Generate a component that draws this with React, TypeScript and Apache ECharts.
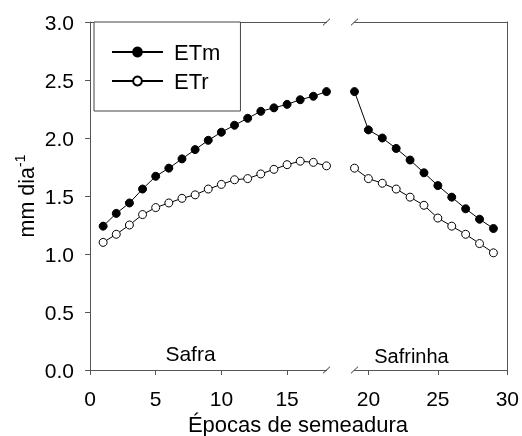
import React, { useEffect, useRef } from "react";
import * as echarts from "echarts";

const safraX = [1, 2, 3, 4, 5, 6, 7, 8, 9, 10, 11, 12, 13, 14, 15, 16, 17, 18];
const safraETm = [1.24, 1.35, 1.44, 1.56, 1.67, 1.74, 1.82, 1.9, 1.98, 2.05, 2.11, 2.17, 2.23, 2.26, 2.29, 2.33, 2.36, 2.4];
const safraETr = [1.1, 1.17, 1.25, 1.34, 1.4, 1.44, 1.48, 1.51, 1.56, 1.6, 1.64, 1.65, 1.69, 1.73, 1.77, 1.8, 1.79, 1.76];

const safrinhaX = [19, 20, 21, 22, 23, 24, 25, 26, 27, 28, 29];
const safrinhaETm = [2.4, 2.07, 2.0, 1.91, 1.81, 1.7, 1.59, 1.49, 1.39, 1.3, 1.22];
const safrinhaETr = [1.74, 1.65, 1.61, 1.56, 1.49, 1.42, 1.31, 1.24, 1.17, 1.09, 1.01];

const leftTicks = [0, 5, 10, 15];
const rightTicks = [20, 25, 30];

const FONT = "Liberation Sans, Arial, Helvetica, sans-serif";
const AXIS_COLOR = "#555";

export default function App() {
  const ref = useRef<HTMLDivElement>(null);

  useEffect(() => {
    if (!ref.current) return;
    const chart = echarts.init(ref.current, null, { renderer: "svg" });

    const pairs = (xs: number[], ys: number[]) => xs.map((x, i) => [x, ys[i]]);

    const lineSeries = (name: string, data: number[][], xi: number, filled: boolean) => ({
      type: "line",
      name,
      xAxisIndex: xi,
      yAxisIndex: xi,
      data,
      clip: false,
      symbol: "circle",
      symbolSize: 8,
      lineStyle: { color: "#000", width: 1 },
      itemStyle: { color: filled ? "#000" : "#fff", borderColor: "#000", borderWidth: 1 },
      emphasis: { disabled: true },
    });

    const plainX = (gi: number, min: number, max: number) => ({
      type: "value",
      gridIndex: gi,
      position: "top",
      min,
      max,
      axisLine: { show: true, onZero: false, lineStyle: { color: AXIS_COLOR, width: 1 } },
      axisTick: { show: false },
      axisLabel: { show: false },
      splitLine: { show: false },
    });

    const slash = (cx: number, cy: number) => ({
      type: "line",
      shape: { x1: cx - 3.5, y1: cy + 3.3, x2: cx + 3.5, y2: cy - 3.3 },
      style: { stroke: "#333", lineWidth: 1 },
      z: 10,
    });

    chart.setOption({
      animation: false,
      textStyle: { fontFamily: FONT },
      grid: [
        { left: 90, top: 22, width: 236.5, height: 348 },
        { left: 354.5, top: 22, width: 154, height: 348 },
      ],
      xAxis: [
        {
          type: "value",
          gridIndex: 0,
          position: "bottom",
          min: 0,
          max: 18,
          axisLine: { show: true, onZero: false, lineStyle: { color: AXIS_COLOR, width: 1 } },
          axisTick: { show: true, length: 5, customValues: leftTicks, lineStyle: { color: AXIS_COLOR } },
          axisLabel: { customValues: leftTicks, color: "#000", fontSize: 21, margin: 18, fontFamily: FONT },
          splitLine: { show: false },
        },
        {
          type: "value",
          gridIndex: 1,
          position: "bottom",
          min: 19,
          max: 30,
          axisLine: { show: true, onZero: false, lineStyle: { color: AXIS_COLOR, width: 1 } },
          axisTick: { show: true, length: 5, customValues: rightTicks, lineStyle: { color: AXIS_COLOR } },
          axisLabel: { customValues: rightTicks, color: "#000", fontSize: 21, margin: 18, fontFamily: FONT },
          splitLine: { show: false },
        },
        plainX(0, 0, 18),
        plainX(1, 19, 30),
      ],
      yAxis: [
        {
          type: "value",
          gridIndex: 0,
          position: "left",
          min: 0,
          max: 3,
          interval: 0.5,
          axisLine: { show: true, onZero: false, lineStyle: { color: AXIS_COLOR, width: 1 } },
          axisTick: { show: true, length: 5, lineStyle: { color: AXIS_COLOR } },
          axisLabel: {
            color: "#000",
            fontSize: 21,
            margin: 16,
            fontFamily: FONT,
            formatter: (v: number) => v.toFixed(1),
          },
          splitLine: { show: false },
          name: "{a|mm dia}{b|-1}",
          nameLocation: "middle",
          nameGap: 52,
          nameRotate: 90,
          nameTextStyle: {
            rich: {
              a: { fontSize: 21.5, lineHeight: 25, verticalAlign: "bottom", color: "#000", fontFamily: FONT },
              b: { fontSize: 14, lineHeight: 14, verticalAlign: "top", color: "#000", fontFamily: FONT },
            },
          },
        },
        {
          type: "value",
          gridIndex: 1,
          position: "right",
          min: 0,
          max: 3,
          interval: 0.5,
          axisLine: { show: true, onZero: false, lineStyle: { color: AXIS_COLOR, width: 1 } },
          axisTick: { show: false },
          axisLabel: { show: false },
          splitLine: { show: false },
        },
      ],
      legend: {
        data: ["ETm", "ETr"],
        orient: "vertical",
        left: 94,
        top: 22,
        itemWidth: 51,
        itemHeight: 11,
        itemGap: 7,
        padding: [19, 20, 19, 17],
        borderColor: "#444",
        borderWidth: 1,
        backgroundColor: "#fff",
        selectedMode: false,
        textStyle: { fontSize: 22, color: "#000", fontFamily: FONT, padding: [0, 0, 0, 6] },
      },
      series: [
        lineSeries("ETm", pairs(safraX, safraETm), 0, true),
        lineSeries("ETr", pairs(safraX, safraETr), 0, false),
        lineSeries("ETm", pairs(safrinhaX, safrinhaETm), 1, true),
        lineSeries("ETr", pairs(safrinhaX, safrinhaETr), 1, false),
      ],
      graphic: [
        slash(326.5, 22),
        slash(354.5, 22),
        slash(326.5, 370),
        slash(354.5, 370),
        {
          type: "text",
          x: 190.5,
          y: 353,
          style: { text: "Safra", fontSize: 21, fontFamily: FONT, fill: "#000", align: "center", verticalAlign: "middle" },
        },
        {
          type: "text",
          x: 411.5,
          y: 355.5,
          style: { text: "Safrinha", fontSize: 20, fontFamily: FONT, fill: "#000", align: "center", verticalAlign: "middle" },
        },
        {
          type: "text",
          x: 298,
          y: 424,
          style: {
            text: "Épocas de semeadura",
            fontSize: 22,
            fontFamily: FONT,
            fill: "#000",
            align: "center",
            verticalAlign: "middle",
          },
        },
      ],
    });

    return () => chart.dispose();
  }, []);

  return (
    <div
      ref={ref}
      style={{ position: "fixed", left: 0, top: 0, width: 522, height: 436 }}
    />
  );
}
